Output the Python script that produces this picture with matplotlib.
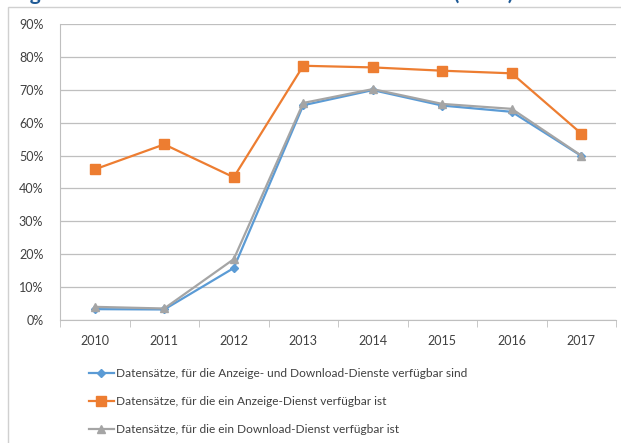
import matplotlib
matplotlib.use("Agg")
import matplotlib.pyplot as plt
from matplotlib.patches import Rectangle
from matplotlib.ticker import FuncFormatter

years = ["2010", "2011", "2012", "2013", "2014", "2015", "2016", "2017"]
anzeige_und_download = [3.3, 3.2, 15.8, 65.3, 69.9, 65.2, 63.3, 49.9]
anzeige = [45.8, 53.4, 43.4, 77.3, 76.8, 75.8, 75.0, 56.7]
download = [4.0, 3.5, 18.5, 66.0, 70.2, 65.7, 64.2, 50.0]
labels = [
    "Datensätze, für die Anzeige- und Download-Dienste verfügbar sind",
    "Datensätze, für die ein Anzeige-Dienst verfügbar ist",
    "Datensätze, für die ein Download-Dienst verfügbar ist",
]
title = "Verfügbarkeit von Diensten: Status in Deutschland (2017)"

plt.rcParams["font.family"] = ["Lato", "DejaVu Sans"]

W, H = 621, 443
fig = plt.figure(figsize=(W / 100, H / 100), dpi=100)

def fx(px):
    return px / W

def fy(py):
    return 1 - py / H

# outer chart frame
fig.patches.append(Rectangle((fx(8), -0.05), 1.2, fy(7) + 0.05, transform=fig.transFigure,
                             fill=False, edgecolor="#D0D0D0", linewidth=1.0))
# clipped title (only its lower edge shows)
fig.text(fx(245), fy(0), title, ha="center", va="baseline", fontsize=15,
         fontweight="bold", color="#1F5A96")

ax = fig.add_axes([fx(60), fy(320), fx(616 - 60), (320 - 24) / H])
x = list(range(len(years)))

ax.plot(x, anzeige_und_download, color="#5B9BD5", lw=1.6, marker="D", ms=4.5,
        label=labels[0], zorder=3)
ax.plot(x, anzeige, color="#ED7D31", lw=1.6, marker="s", ms=6.5,
        label=labels[1], zorder=3)
ax.plot(x, download, color="#A5A5A5", lw=1.6, marker="^", ms=6,
        label=labels[2], zorder=4)

ax.set_xlim(-0.5, len(years) - 0.5)
ax.set_ylim(0, 90)
ax.set_yticks(range(0, 91, 10))
ax.yaxis.set_major_formatter(FuncFormatter(lambda v, p: f"{int(v)}%"))
ax.set_xticks(x)
ax.set_xticklabels(years)
ax.set_xticks([i - 0.5 for i in range(len(years) + 1)], minor=True)
ax.grid(axis="y", color="#BFBFBF", lw=0.9)
ax.set_axisbelow(True)
for s in ["top", "right"]:
    ax.spines[s].set_visible(False)
ax.spines["left"].set_color("#BFBFBF")
ax.spines["bottom"].set_color("#BFBFBF")
ax.tick_params(axis="y", length=0, pad=12, labelsize=9, colors="#404040")
ax.tick_params(axis="x", which="major", length=0, pad=11, labelsize=9, colors="#404040")
ax.tick_params(axis="x", which="minor", length=5, color="#BFBFBF")

fig.legend(loc="upper left", bbox_to_anchor=(fx(78), fy(357)), frameon=False,
           fontsize=8.6, handlelength=2.1, handletextpad=0.2, labelspacing=1.45,
           labelcolor="#404040")

fig.savefig("out.png", dpi=100)
